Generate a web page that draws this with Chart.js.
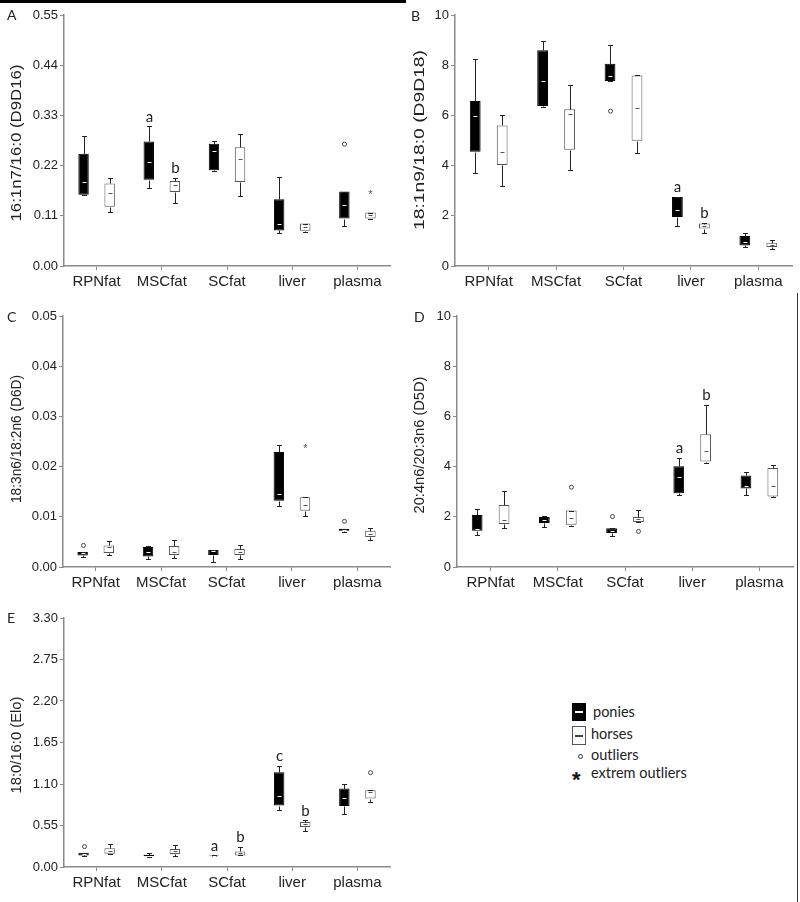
<!DOCTYPE html>
<html>
<head>
<meta charset="utf-8">
<script src="https://cdn.jsdelivr.net/npm/chart.js@4.4.1/dist/chart.umd.min.js"></script>
<style>
  body { margin: 0; background: #fff; }
  #page { position: relative; width: 800px; height: 902px; overflow: hidden; background: #fff; }
  canvas { position: absolute; }
  .tag { position: absolute; font: 14px Lato, "Open Sans", sans-serif; color: #222; line-height: 1; }
  .topbar { position: absolute; left: 0; top: 0; width: 406px; height: 3px; background: #000; }
  .edge { position: absolute; left: 797px; top: 293px; width: 1px; height: 609px; background: #333; }
  .leg { position: absolute; font: 14.5px Lato, "Open Sans", sans-serif; color: #222; line-height: 1; }
  .ico { position: absolute; box-sizing: border-box; }
  .ico i { position: absolute; left: 3px; right: 3px; top: 50%; height: 2px; margin-top: -1px; }
</style>
</head>
<body>
<div id="page">
  <div class="topbar"></div>
  <div class="edge"></div>
  <canvas id="chartA" width="400" height="300" style="left:0;top:0"></canvas>
  <canvas id="chartB" width="400" height="300" style="left:400px;top:0"></canvas>
  <canvas id="chartC" width="400" height="300" style="left:0;top:300px"></canvas>
  <canvas id="chartD" width="400" height="300" style="left:400px;top:300px"></canvas>
  <canvas id="chartE" width="400" height="300" style="left:0;top:600px"></canvas>

  <div class="tag" style="left:7px;top:8px">A</div>
  <div class="tag" style="left:411px;top:9px">B</div>
  <div class="tag" style="left:7px;top:310px">C</div>
  <div class="tag" style="left:414px;top:310px">D</div>
  <div class="tag" style="left:7px;top:611px">E</div>

  <div class="ico" style="left:572px;top:703px;width:14px;height:18px;background:#000"><i style="background:#fff"></i></div>
  <div class="leg" style="left:593px;top:705px">ponies</div>
  <div class="ico" style="left:572px;top:726px;width:14px;height:19px;background:#fff;border:1px solid #555"><i style="background:#444;left:2px;right:2px"></i></div>
  <div class="leg" style="left:591px;top:727px">horses</div>
  <div class="ico" style="left:578px;top:754px;width:5px;height:5px;border:1px solid #333;border-radius:50%"></div>
  <div class="leg" style="left:591px;top:748px">outliers</div>
  <div class="leg" style="left:572px;top:767px;font:bold 22px 'Liberation Sans', Arial, sans-serif;color:#111">*</div>
  <div class="leg" style="left:591px;top:766px">extrem outliers</div>
</div>

<script>
const categories = ['RPNfat', 'MSCfat', 'SCfat', 'liver', 'plasma'];
const noMarks = [[], [], [], [], []];
const noSig = ['', '', '', '', ''];

// each row: [min, q1, median, q3, max]
// A: 16:1n7/16:0
const aPonies = [[0.156, 0.156, 0.183, 0.246, 0.285], [0.170, 0.189, 0.227, 0.273, 0.306], [0.208, 0.210, 0.252, 0.268, 0.275], [0.072, 0.078, 0.093, 0.146, 0.194], [0.087, 0.104, 0.133, 0.163, 0.163]];
const aHorses = [[0.119, 0.130, 0.160, 0.181, 0.193], [0.138, 0.162, 0.177, 0.186, 0.193], [0.153, 0.184, 0.234, 0.260, 0.290], [0.074, 0.077, 0.086, 0.093, 0.093], [0.104, 0.104, 0.111, 0.117, 0.117]];
const aPoniesOut = [[], [], [], [], [0.267]];
const aHorsesExt = [[], [], [], [], [0.160]];
const aPoniesSig = ['', 'a', '', '', ''];
const aHorsesSig = ['', 'b', '', '', ''];
const aTicks = [0, 0.11, 0.22, 0.33, 0.44, 0.55];

// B: 18:1n9/18:0
const bPonies = [[3.72, 4.55, 5.97, 6.57, 8.24], [6.32, 6.37, 7.39, 8.60, 8.96], [7.37, 7.37, 7.57, 8.06, 8.82], [1.61, 1.95, 2.22, 2.75, 2.75], [0.76, 0.82, 0.96, 1.20, 1.33]];
const bHorses = [[3.19, 4.02, 4.56, 5.60, 6.02], [3.84, 4.63, 6.04, 6.25, 7.22], [4.51, 4.99, 6.28, 7.59, 7.59], [1.33, 1.49, 1.60, 1.69, 1.72], [0.69, 0.76, 0.82, 0.93, 1.02]];
const bPoniesOut = [[], [], [6.17], [], []];
const bPoniesSig = ['', '', '', 'a', ''];
const bHorsesSig = ['', '', '', 'b', ''];
const bTicks = [0, 2, 4, 6, 8, 10];

// C: 18:3n6/18:2n6
const cPonies = [[0.0020, 0.0023, 0.0027, 0.0030, 0.0030], [0.0016, 0.0021, 0.0029, 0.0040, 0.0041], [0.0010, 0.0024, 0.0031, 0.0034, 0.0034], [0.0121, 0.0132, 0.0146, 0.0229, 0.0243], [0.0069, 0.0072, 0.0074, 0.0076, 0.0076]];
const cHorses = [[0.0024, 0.0028, 0.0039, 0.0043, 0.0051], [0.0017, 0.0024, 0.0029, 0.0042, 0.0054], [0.0016, 0.0024, 0.0029, 0.0036, 0.0044], [0.0101, 0.0112, 0.0124, 0.0139, 0.0139], [0.0054, 0.0060, 0.0066, 0.0072, 0.0077]];
const cPoniesOut = [[0.0043], [], [], [], [0.0091]];
const cHorsesExt = [[], [], [], [0.0240], []];
const cTicks = [0, 0.01, 0.02, 0.03, 0.04, 0.05];

// D: 20:4n6/20:3n6
const dPonies = [[1.29, 1.44, 1.50, 2.07, 2.31], [1.59, 1.75, 1.87, 1.99, 2.05], [1.25, 1.35, 1.43, 1.54, 1.54], [2.88, 2.94, 3.57, 4.01, 4.36], [2.86, 3.13, 3.21, 3.65, 3.77]];
const dHorses = [[1.56, 1.71, 1.88, 2.47, 3.01], [1.62, 1.68, 1.96, 2.25, 2.25], [1.79, 1.79, 1.92, 1.99, 2.28], [4.15, 4.20, 4.63, 5.29, 6.47], [2.79, 2.81, 3.24, 3.94, 4.06]];
const dPoniesOut = [[], [], [2.01], [], []];
const dHorsesOut = [[], [3.18], [1.42], [], []];
const dPoniesSig = ['', '', '', 'a', ''];
const dHorsesSig = ['', '', '', 'b', ''];
const dTicks = [0, 2, 4, 6, 8, 10];

// E: 18:0/16:0
const ePonies = [[0.145, 0.154, 0.170, 0.190, 0.190], [0.137, 0.141, 0.150, 0.163, 0.185], [0.141, 0.141, 0.148, 0.154, 0.154], [0.753, 0.815, 0.943, 1.256, 1.340], [0.700, 0.810, 0.916, 1.040, 1.097]];
const eHorses = [[0.167, 0.176, 0.210, 0.247, 0.310], [0.145, 0.172, 0.207, 0.238, 0.286], [0.154, 0.154, 0.190, 0.207, 0.264], [0.480, 0.529, 0.564, 0.595, 0.617], [0.855, 0.907, 1.000, 1.018, 1.018]];
const ePoniesOut = [[0.27], [], [], [], []];
const eHorsesOut = [[], [], [], [], [1.25]];
const ePoniesSig = ['', '', 'a', 'c', ''];
const eHorsesSig = ['', '', 'b', 'b', ''];
const eTicks = [0, 0.55, 1.10, 1.65, 2.20, 2.75, 3.30];

// whiskers, medians, outliers and letters on top of the floating bars
const boxParts = {
  id: 'boxParts',
  afterDatasetsDraw(chart) {
    const c = chart.ctx;
    const ys = chart.scales.y;
    const py = v => Math.round(ys.getPixelForValue(v)) + 0.5;
    const seg = (x1, y1, x2, y2) => { c.beginPath(); c.moveTo(x1, y1); c.lineTo(x2, y2); c.stroke(); };
    c.save();
    c.lineWidth = 1;
    chart.data.datasets.forEach((ds, i) => {
      const meta = chart.getDatasetMeta(i);
      meta.data.forEach((bar, j) => {
        const [mn, q1, md, q3, mx] = ds.stats[j];
        const x = Math.round(bar.x) + 0.5;
        c.strokeStyle = '#222';
        if (mx > q3) { seg(x, py(q3), x, py(mx)); }
        seg(x - 2.5, py(mx), x + 2.5, py(mx));
        if (mn < q1) { seg(x, py(q1), x, py(mn)); }
        seg(x - 2.5, py(mn), x + 2.5, py(mn));
        c.strokeStyle = ds.medianColor;
        seg(x - 2, py(md), x + 2, py(md));
        c.strokeStyle = '#444';
        ds.outliers[j].forEach(v => {
          c.beginPath(); c.arc(x, ys.getPixelForValue(v), 2, 0, Math.PI * 2); c.stroke();
        });
        c.fillStyle = '#555';
        c.font = '11px "Liberation Sans", Arial, sans-serif';
        c.textAlign = 'center';
        c.textBaseline = 'middle';
        ds.extremes[j].forEach(v => c.fillText('*', x, ys.getPixelForValue(v) + 2));
        if (ds.sig[j]) {
          const top = Math.max(mx, ...ds.outliers[j]);
          c.fillStyle = '#222';
          c.font = '15px Lato, "Open Sans", sans-serif';
          c.textBaseline = 'bottom';
          c.fillText(ds.sig[j], x, ys.getPixelForValue(top) - 2);
        }
      });
    });
    c.restore();
  }
};

// rotated y title, stretched to the length seen in the figure
const yTitle = {
  id: 'yTitle',
  afterDraw(chart, args, o) {
    const c = chart.ctx;
    c.save();
    c.font = '14px "Liberation Sans", Arial, sans-serif';
    c.fillStyle = '#222';
    c.textAlign = 'center';
    c.textBaseline = 'middle';
    c.translate(o.x, o.y);
    c.rotate(-Math.PI / 2);
    const w = c.measureText(o.text).width;
    c.scale(o.length / w, 1);
    c.fillText(o.text, 0, 0);
    c.restore();
  }
};

function makeChart(id, p) {
  const axisGrey = '#8a8a8a';
  return new Chart(document.getElementById(id), {
    type: 'bar',
    data: {
      labels: categories,
      datasets: [
        {
          label: 'ponies',
          data: p.ponies.map(r => [r[1], r[3]]),
          stats: p.ponies, outliers: p.poniesOut || noMarks, extremes: p.poniesExt || noMarks, sig: p.poniesSig || noSig,
          backgroundColor: '#000', borderColor: '#000', borderWidth: 1, borderSkipped: false,
          medianColor: '#fff',
          barPercentage: 0.4, categoryPercentage: 0.8
        },
        {
          label: 'horses',
          data: p.horses.map(r => [r[1], r[3]]),
          stats: p.horses, outliers: p.horsesOut || noMarks, extremes: p.horsesExt || noMarks, sig: p.horsesSig || noSig,
          backgroundColor: '#fff', borderColor: '#555', borderWidth: 1, borderSkipped: false,
          medianColor: '#555',
          barPercentage: 0.4, categoryPercentage: 0.8
        }
      ]
    },
    options: {
      responsive: false,
      animation: false,
      events: [],
      layout: { padding: { top: p.top, right: p.right, left: 0, bottom: 0 } },
      plugins: {
        legend: { display: false },
        tooltip: { enabled: false },
        yTitle: { text: p.title, x: p.tx, y: p.ty, length: p.tlen }
      },
      scales: {
        x: {
          grid: { drawOnChartArea: false, offset: false, tickLength: 4, color: axisGrey },
          border: { color: axisGrey, width: 1.5 },
          ticks: { color: '#222', padding: 3, font: { family: '"Liberation Sans", Arial, sans-serif', size: 15 } },
          afterFit: s => { s.height = p.xh; }
        },
        y: {
          min: p.ticks[0],
          max: p.ticks[p.ticks.length - 1],
          afterBuildTicks: s => { s.ticks = p.ticks.map(v => ({ value: v })); },
          grid: { drawOnChartArea: false, tickLength: 4, color: axisGrey },
          border: { color: axisGrey, width: 1.5 },
          ticks: {
            color: '#222', padding: 2,
            font: { family: '"Liberation Sans", Arial, sans-serif', size: 13 },
            callback: v => v.toFixed(p.dec)
          },
          afterFit: s => { s.width = p.yw; }
        }
      }
    },
    plugins: [boxParts, yTitle]
  });
}

makeChart('chartA', {
  ponies: aPonies, horses: aHorses, poniesOut: aPoniesOut, horsesExt: aHorsesExt,
  poniesSig: aPoniesSig, horsesSig: aHorsesSig, ticks: aTicks, dec: 2,
  title: '16:1n7/16:0 (D9D16)', tx: 17, ty: 143, tlen: 157,
  yw: 64, xh: 34, top: 15, right: 10
});
makeChart('chartB', {
  ponies: bPonies, horses: bHorses, poniesOut: bPoniesOut,
  poniesSig: bPoniesSig, horsesSig: bHorsesSig, ticks: bTicks, dec: 0,
  title: '18:1n9/18:0 (D9D18)', tx: 20, ty: 140, tlen: 180,
  yw: 55, xh: 34, top: 15, right: 8
});
makeChart('chartC', {
  ponies: cPonies, horses: cHorses, poniesOut: cPoniesOut, horsesExt: cHorsesExt,
  ticks: cTicks, dec: 2,
  title: '18:3n6/18:2n6 (D6D)', tx: 17, ty: 139, tlen: 128,
  yw: 63, xh: 33, top: 16, right: 10
});
makeChart('chartD', {
  ponies: dPonies, horses: dHorses, poniesOut: dPoniesOut, horsesOut: dHorsesOut,
  poniesSig: dPoniesSig, horsesSig: dHorsesSig, ticks: dTicks, dec: 0,
  title: '20:4n6/20:3n6 (D5D)', tx: 20, ty: 145, tlen: 137,
  yw: 57, xh: 33, top: 16, right: 7
});
makeChart('chartE', {
  ponies: ePonies, horses: eHorses, poniesOut: ePoniesOut, horsesOut: eHorsesOut,
  poniesSig: ePoniesSig, horsesSig: eHorsesSig, ticks: eTicks, dec: 2,
  title: '18:0/16:0 (Elo)', tx: 17, ty: 145, tlen: 97,
  yw: 64, xh: 33, top: 18, right: 10
});
</script>
</body>
</html>
